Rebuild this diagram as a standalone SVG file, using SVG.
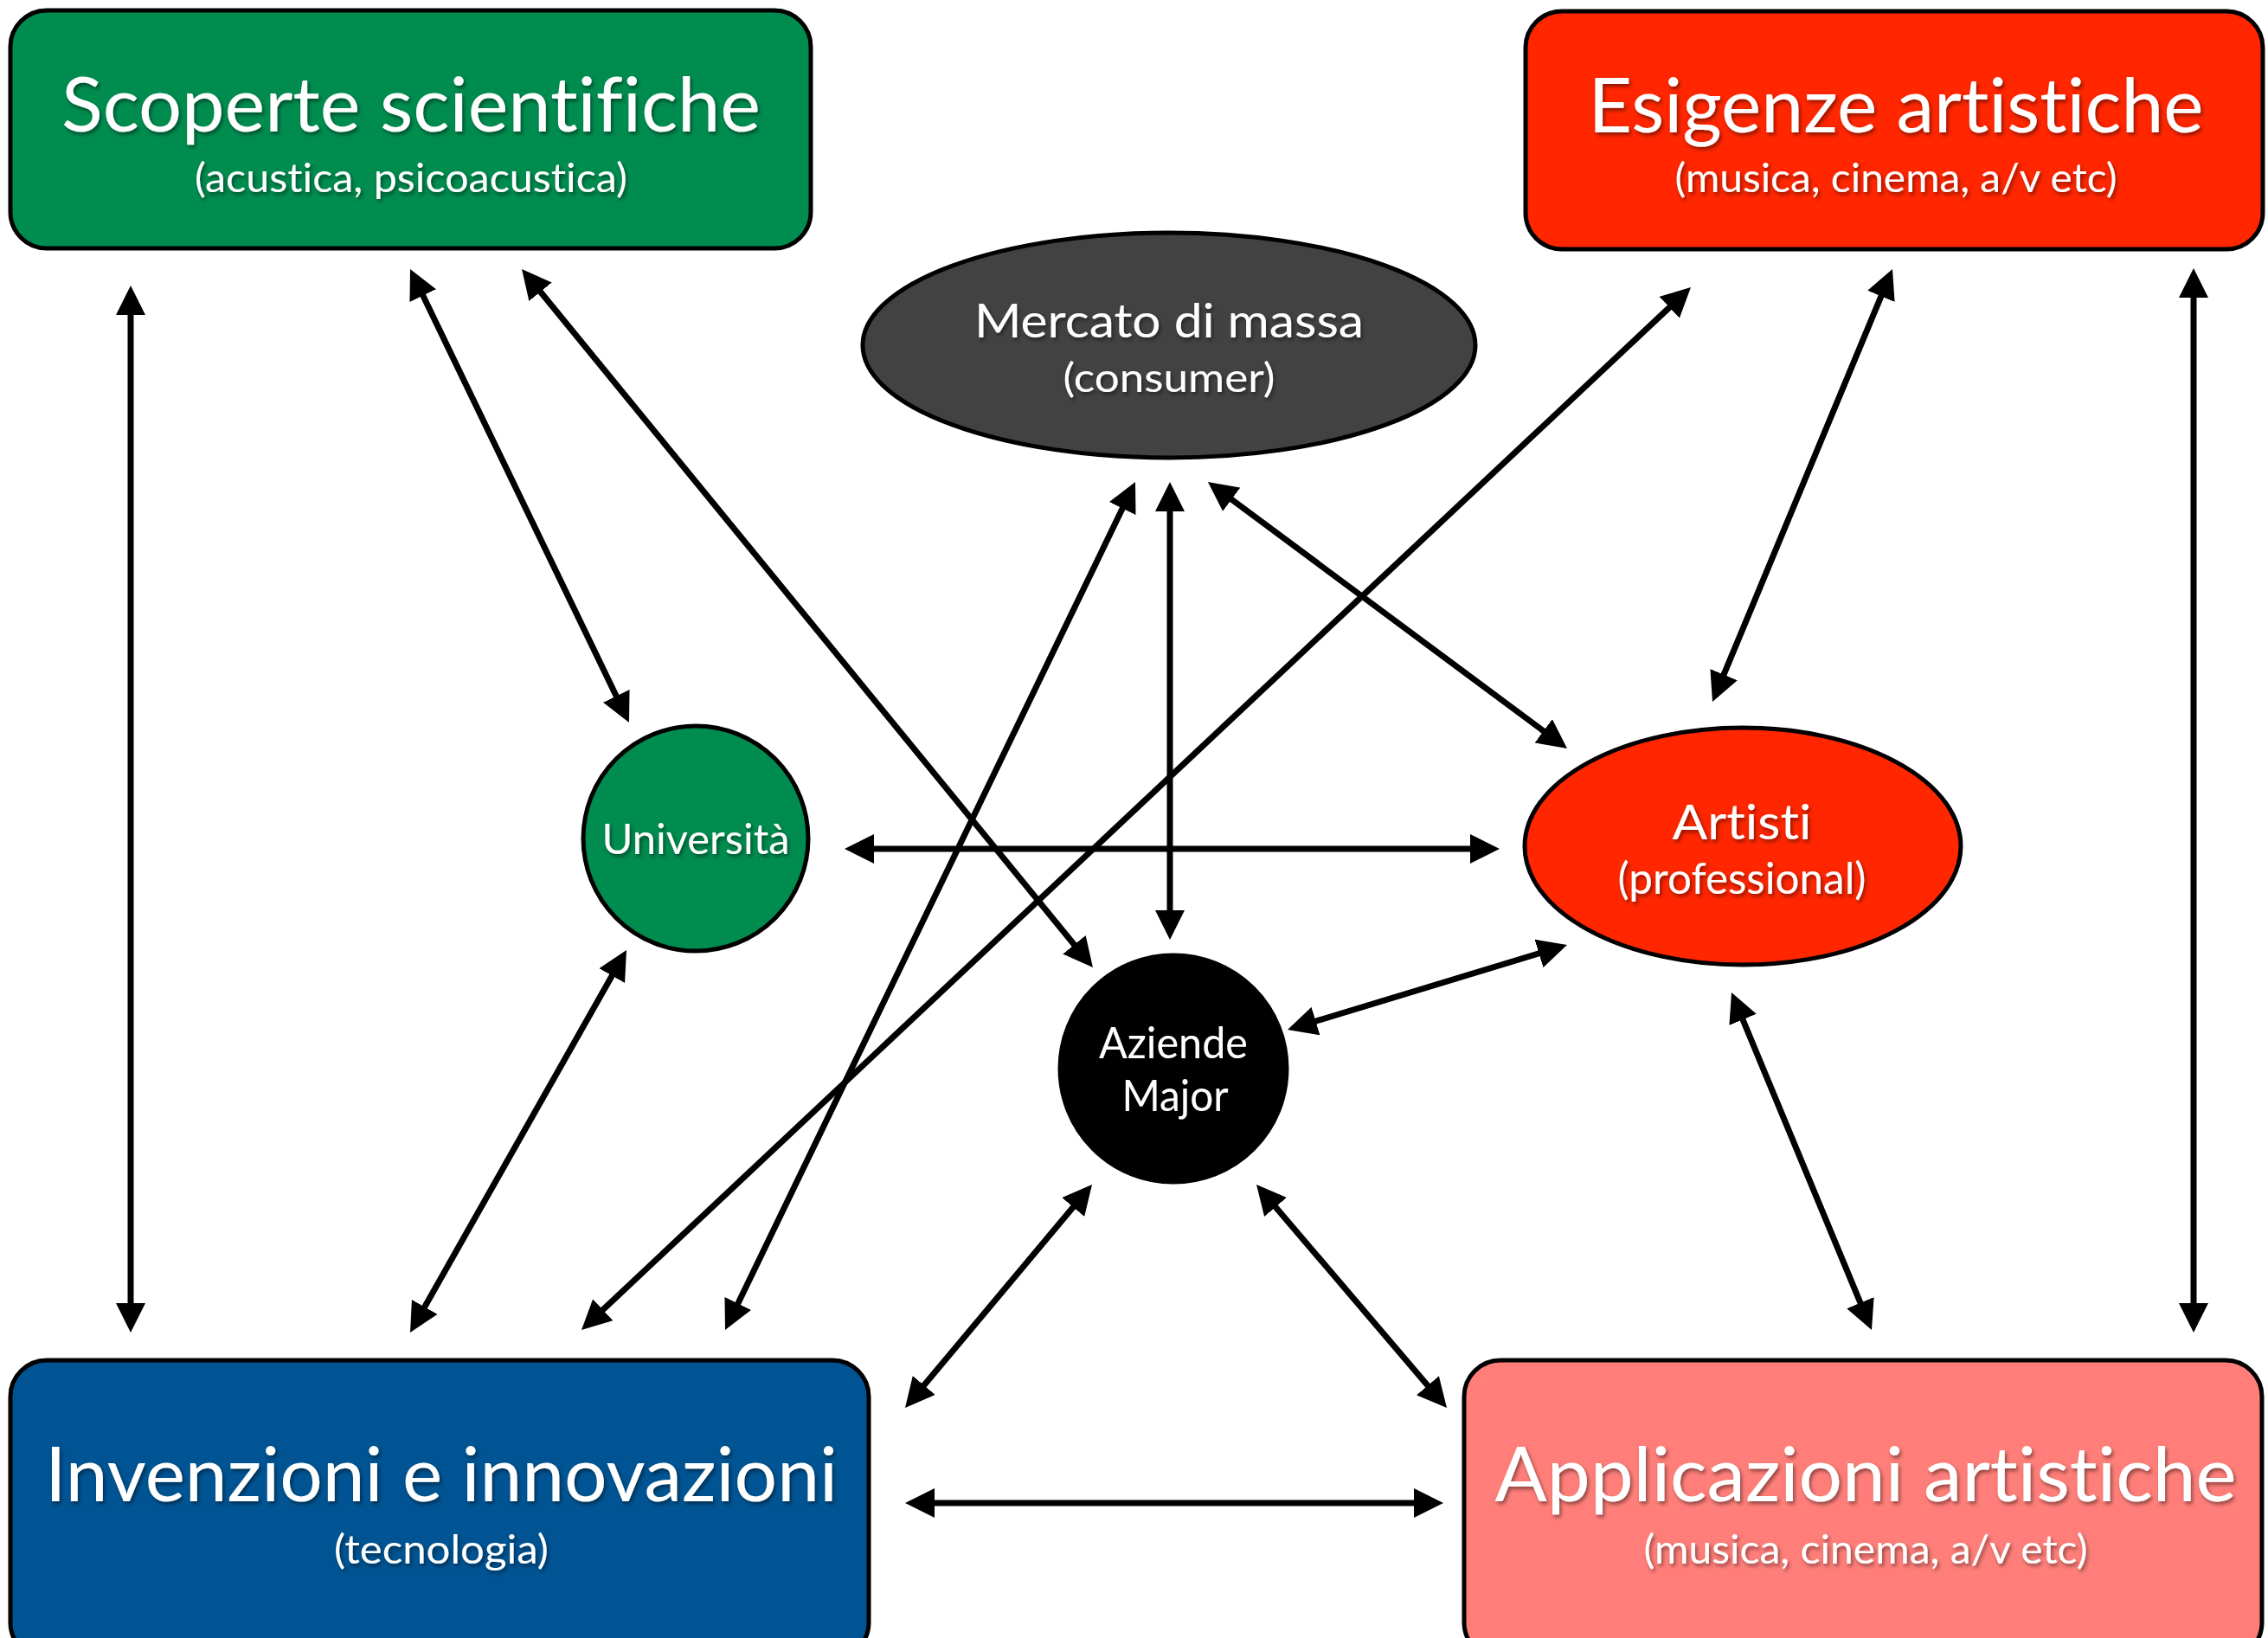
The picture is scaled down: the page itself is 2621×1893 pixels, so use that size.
<svg xmlns="http://www.w3.org/2000/svg" width="2621" height="1893" viewBox="0 0 2621 1893">
<style>
.node{stroke:#000;stroke-width:5}
.t{font-family:Lato,"Open Sans","Liberation Sans",sans-serif;fill:#fff;text-anchor:middle;filter:url(#sh);font-variant-ligatures:none;font-feature-settings:"liga" 0,"dlig" 0}
.big{font-size:88px}
.sub{font-size:46px}
.mid{font-size:54px}
.conn line{stroke:#000;stroke-width:7;marker-start:url(#ah);marker-end:url(#ah)}
</style>
<defs>
<marker id="ah" markerUnits="userSpaceOnUse" markerWidth="34" markerHeight="34" refX="20" refY="17" orient="auto-start-reverse" viewBox="0 0 34 34">
<path d="M0,0 L34,17 L0,34 z" fill="#000"/>
</marker>
<filter id="sh" x="-10%" y="-30%" width="120%" height="160%">
<feDropShadow dx="2" dy="3" stdDeviation="2" flood-color="#000" flood-opacity="0.45"/>
</filter>
</defs>
<rect width="2621" height="1893" fill="#fff"/>

<g id="scoperte">
<rect class="node" x="12" y="12" width="925" height="275" rx="42" fill="#008C4F"/>
<text class="t big" x="475" y="152" textLength="808" lengthAdjust="spacingAndGlyphs">Scoperte scientifiche</text>
<text class="t sub" x="475" y="222" textLength="500" lengthAdjust="spacingAndGlyphs">(acustica, psicoacustica)</text>
</g>

<g id="esigenze">
<rect class="node" x="1763" y="13" width="852" height="275" rx="42" fill="#FF2600"/>
<text class="t big" x="2191" y="153" textLength="711" lengthAdjust="spacingAndGlyphs">Esigenze artistiche</text>
<text class="t sub" x="2191" y="222" textLength="511" lengthAdjust="spacingAndGlyphs">(musica, cinema, a/v etc)</text>
</g>

<g id="invenzioni">
<rect class="node" x="12" y="1572" width="992" height="345" rx="42" fill="#005493"/>
<text class="t big" x="510" y="1735" textLength="916" lengthAdjust="spacingAndGlyphs">Invenzioni e innovazioni</text>
<text class="t sub" x="510" y="1807" textLength="248" lengthAdjust="spacingAndGlyphs">(tecnologia)</text>
</g>

<g id="applicazioni">
<rect class="node" x="1692" y="1572" width="922" height="345" rx="42" fill="#FF7E79"/>
<text class="t big" x="2156" y="1735" textLength="857" lengthAdjust="spacingAndGlyphs">Applicazioni artistiche</text>
<text class="t sub" x="2156" y="1807" textLength="513" lengthAdjust="spacingAndGlyphs">(musica, cinema, a/v etc)</text>
</g>

<g id="mercato">
<ellipse class="node" cx="1351" cy="399" rx="354" ry="130" fill="#424242"/>
<text class="t mid" x="1351" y="390" textLength="450" lengthAdjust="spacingAndGlyphs">Mercato di massa</text>
<text class="t sub" x="1351" y="453" textLength="245" lengthAdjust="spacingAndGlyphs">(consumer)</text>
</g>

<g id="universita">
<circle class="node" cx="804" cy="969" r="130" fill="#008C4F"/>
<text class="t" style="font-size:48px" x="804" y="987" textLength="217" lengthAdjust="spacingAndGlyphs">Università</text>
</g>

<g id="artisti">
<ellipse class="node" cx="2014" cy="978" rx="252" ry="137" fill="#FF2600"/>
<text class="t" style="font-size:56px" x="2013" y="970" textLength="161" lengthAdjust="spacingAndGlyphs">Artisti</text>
<text class="t" style="font-size:50px" x="2013" y="1033" textLength="287" lengthAdjust="spacingAndGlyphs">(professional)</text>
</g>

<g id="aziende">
<circle class="node" cx="1356" cy="1235" r="131" fill="#000"/>
<text class="t" style="font-size:50px" x="1356" y="1223" textLength="172" lengthAdjust="spacingAndGlyphs">Aziende</text>
<text class="t" style="font-size:50px" x="1358" y="1284" textLength="123" lengthAdjust="spacingAndGlyphs">Major</text>
</g>

<g id="connectors" class="conn">
<line x1="151" y1="344" x2="151" y2="1526"/>
<line x1="480.1" y1="323.6" x2="720.9" y2="822.4"/>
<line x1="611.9" y1="321.8" x2="1254.1" y2="1107.2"/>
<line x1="1943.8" y1="341.6" x2="682.2" y2="1527.4"/>
<line x1="1305.9" y1="569.6" x2="844.1" y2="1524.4"/>
<line x1="1352" y1="571" x2="1352" y2="1072"/>
<line x1="1407.2" y1="565.3" x2="1799.8" y2="856.7"/>
<line x1="2181.6" y1="323.9" x2="1984.4" y2="798.1"/>
<line x1="2535" y1="324" x2="2535" y2="1526"/>
<line x1="990" y1="981" x2="1719" y2="981"/>
<line x1="717.1" y1="1110.2" x2="480.9" y2="1527.8"/>
<line x1="1501.4" y1="1185.9" x2="1797.6" y2="1096.1"/>
<line x1="1253" y1="1379.7" x2="1055" y2="1616.3"/>
<line x1="1461.1" y1="1379.7" x2="1662.9" y2="1616.4"/>
<line x1="2006.4" y1="1159.9" x2="2157.6" y2="1524.1"/>
<line x1="1060" y1="1737" x2="1654" y2="1737"/>
</g>
</svg>
